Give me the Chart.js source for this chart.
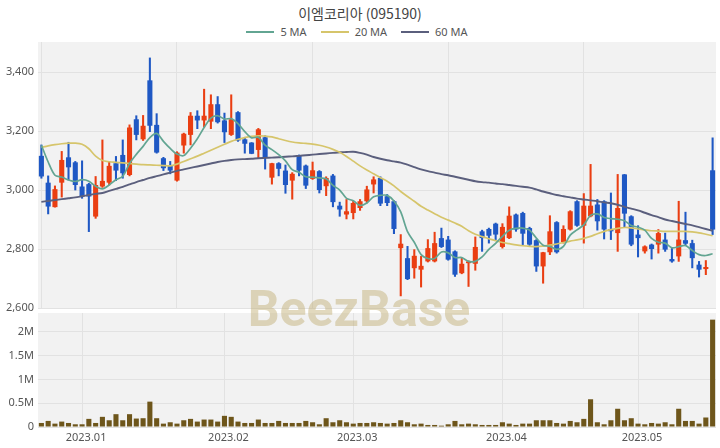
<!DOCTYPE html>
<html>
<head>
<meta charset="utf-8">
<script src="https://cdn.jsdelivr.net/npm/chart.js@4.4.0/dist/chart.umd.min.js"></script>
<style>
  body { margin: 0; width: 720px; height: 448px; background: #fff; position: relative; overflow: hidden; font-family: "Noto Sans", sans-serif; }
  #title { position: absolute; top: 3px; left: 0; width: 720px; text-align: center; font: 14px "Noto Sans CJK KR", "Noto Sans", sans-serif; color: #444; }
  #legend { position: absolute; top: 24px; left: 0; width: 714px; display: flex; justify-content: center; gap: 14px; font-size: 11px; color: #555; }
  #legend span.item { display: flex; align-items: center; gap: 6px; }
  #legend i { display: inline-block; width: 28px; height: 2px; }
  .box { position: absolute; left: 0; width: 720px; }
  #wm { position: absolute; top: 284px; left: 0; width: 718px; text-align: center; font: bold 50px Roboto, sans-serif; line-height: 50px; color: rgba(190, 170, 110, 0.45); z-index: 5; }
</style>
</head>
<body>
<div id="title">이엠코리아 (095190)</div>
<div id="legend">
  <span class="item"><i style="background:#62a592"></i>5 MA</span>
  <span class="item"><i style="background:#d6c56b"></i>20 MA</span>
  <span class="item"><i style="background:#5b5f7d"></i>60 MA</span>
</div>
<div class="box" style="top:311px;height:137px;z-index:1"><canvas id="vol"></canvas></div>
<div class="box" style="top:40px;height:276px;z-index:2"><canvas id="price"></canvas></div>
<div id="wm">BeezBase</div>
<script>
var open  = [3116,3025,2942,3025,3111,3094,3012,3020,2910,3012,3025,3091,3119,3051,3240,3172,3372,3221,3108,3082,
             3032,3151,3187,3252,3236,3232,3291,3236,3187,3264,3172,3161,3136,3179,3042,3091,3066,3032,3116,3083,
             3038,3064,3013,3049,2947,2917,2922,2939,2962,3019,3041,2979,2962,2803,2769,2735,2730,2758,2758,2837,
             2832,2792,2718,2752,2750,2860,2868,2886,2807,2837,2917,2922,2871,2830,2741,2789,2891,2823,2866,2962,
             2879,2911,2951,2962,2868,2854,3053,2911,2849,2792,2815,2815,2832,2766,2775,2830,2820,2747,2732,3067];
var high  = [3153,3048,3014,3131,3162,3097,3099,3023,3046,3170,3097,3114,3170,3221,3252,3253,3448,3259,3111,3097,
             3130,3193,3263,3269,3342,3323,3317,3261,3323,3266,3179,3161,3209,3184,3091,3093,3085,3059,3119,3085,
             3095,3066,3045,3053,2959,2968,2962,2968,3013,3045,3045,2985,2964,2849,2809,2798,2775,2832,2857,2871,
             2843,2794,2769,2760,2841,2864,2871,2888,2886,2943,2919,2925,2874,2832,2789,2913,2893,2879,2930,2964,
             2988,3087,2968,2964,2990,3053,3053,2913,2879,2811,2817,2866,2854,2803,2962,2925,2830,2758,2761,3177];
var low   = [3040,2919,2942,2976,3034,3000,2972,2859,2904,3009,3017,3032,3040,3048,3170,3168,3198,3125,3066,3055,
             3030,3125,3153,3208,3213,3208,3227,3161,3185,3165,3125,3123,3108,3071,3020,3048,2989,2969,3048,3005,
             3036,2990,2981,2943,2911,2902,2902,2931,2956,2990,2947,2947,2852,2641,2696,2701,2671,2756,2756,2805,
             2762,2707,2716,2673,2728,2792,2820,2832,2803,2835,2860,2815,2812,2724,2684,2781,2786,2820,2864,2877,
             2820,2909,2864,2834,2832,2792,2875,2811,2773,2786,2766,2786,2792,2755,2758,2811,2736,2705,2713,2849];
var close = [3046,2944,3003,3102,3077,3017,2978,2978,3017,3031,3082,3066,3057,3212,3187,3218,3218,3127,3074,3066,
             3127,3191,3252,3236,3252,3291,3230,3196,3240,3168,3157,3123,3206,3108,3091,3072,3017,3055,3066,3015,
             3067,3000,3041,2959,2934,2928,2956,2962,3002,3036,2954,2956,2868,2818,2698,2777,2743,2803,2820,2807,
             2764,2713,2750,2758,2807,2837,2845,2849,2875,2913,2866,2852,2815,2741,2789,2860,2789,2868,2928,2879,
             2947,2947,2894,2866,2860,2939,2920,2815,2837,2809,2800,2854,2798,2758,2832,2818,2769,2730,2739,2866];
var ma5   = [3152,3095,3050,3044,3034,3029,3035,3030,3013,3004,3017,3035,3047,3090,3121,3148,3178,3192,3165,3141,
             3122,3117,3142,3174,3212,3244,3252,3241,3242,3225,3198,3177,3179,3152,3137,3120,3099,3069,3060,3045,
             3044,3041,3038,3016,3000,2972,2964,2948,2956,2977,2982,2982,2963,2926,2859,2823,2781,2768,2768,2790,
             2787,2771,2771,2758,2758,2773,2799,2819,2843,2864,2870,2871,2864,2837,2813,2809,2799,2809,2847,2865,
             2882,2914,2919,2907,2903,2901,2896,2880,2874,2864,2836,2823,2820,2804,2808,2812,2795,2781,2778,2784];
var ma20  = [3145,3150,3154,3157,3159,3159,3155,3140,3115,3100,3096,3094,3092,3090,3088,3086,3085,3084,3083,3082,
             3088,3097,3106,3115,3125,3135,3145,3155,3165,3172,3178,3182,3184,3183,3180,3174,3168,3163,3160,3158,
             3156,3152,3146,3138,3128,3114,3098,3082,3068,3055,3042,3030,3014,2995,2978,2962,2945,2932,2920,2908,
             2898,2888,2877,2862,2850,2842,2835,2828,2822,2818,2814,2811,2809,2808,2810,2813,2817,2822,2827,2831,
             2836,2843,2852,2860,2866,2870,2873,2872,2868,2865,2862,2861,2860,2860,2860,2860,2858,2855,2850,2845];
var ma60  = [2960,2963,2966,2969,2972,2975,2979,2983,2987,2990,2997,3004,3011,3019,3027,3034,3041,3047,3053,3059,
             3065,3070,3075,3080,3085,3090,3095,3099,3102,3104,3105,3106,3108,3109,3110,3111,3113,3114,3116,3118,
             3120,3122,3124,3126,3128,3129,3130,3126,3120,3112,3106,3101,3097,3093,3086,3078,3070,3064,3059,3054,
             3050,3045,3040,3035,3030,3027,3025,3022,3020,3017,3014,3011,3008,3002,2995,2989,2983,2979,2975,2971,
             2968,2965,2962,2958,2955,2950,2943,2937,2931,2923,2915,2908,2900,2895,2890,2885,2880,2874,2868,2862];
var volume = [85000,128000,71000,114000,85000,57000,57000,171000,85000,214000,142000,270000,142000,270000,178000,185000,534000,185000,71000,100000,
              71000,142000,171000,114000,157000,157000,114000,235000,214000,114000,85000,85000,157000,85000,85000,128000,85000,85000,85000,128000,
              100000,57000,185000,100000,142000,100000,71000,85000,85000,100000,85000,71000,85000,142000,100000,57000,71000,43000,43000,28000,
              57000,128000,57000,71000,57000,43000,43000,43000,100000,71000,43000,71000,71000,142000,142000,142000,85000,71000,128000,100000,
              171000,584000,100000,57000,142000,384000,142000,185000,71000,57000,85000,71000,100000,57000,384000,128000,128000,71000,200000,2260000];
var priceTicks = [2600, 2800, 3000, 3200, 3400];
var volTicks = [0, 500000, 1000000, 1500000, 2000000];
var monthIdx = [6, 27, 46, 68, 88];
var monthText = ["2023.01", "2023.02", "2023.03", "2023.04", "2023.05"];

var UP = "#ea3e12", DOWN = "#1f58c4", GRID = "#e2e2e2";
var labels = close.map(function (v, i) { return i; });
var colors = close.map(function (c, i) { return c >= open[i] ? UP : DOWN; });
var bodies = close.map(function (c, i) { return [open[i], c]; });
var wicks = close.map(function (c, i) { return [low[i], high[i]]; });

var plotBg = {
  id: "plotBg",
  beforeDraw: function (chart) {
    var a = chart.chartArea, ctx = chart.ctx;
    ctx.save();
    ctx.fillStyle = "#f2f2f2";
    ctx.fillRect(a.left, a.top, a.right - a.left, a.bottom - a.top);
    ctx.restore();
  }
};

// fixed axis width, and no extra room for half tick labels
function fitY(s) { s.width = 38; s.paddingTop = 0; s.paddingBottom = 0; }

var tickFont = { size: 11, family: "Noto Sans" };

new Chart("price", {
  type: "bar",
  data: {
    labels: labels,
    datasets: [
      { type: "line", data: ma5, borderColor: "#62a592", borderWidth: 1.7, pointRadius: 0, tension: 0.3, order: 0 },
      { type: "line", data: ma20, borderColor: "#d6c56b", borderWidth: 1.7, pointRadius: 0, tension: 0.3, order: 0 },
      { type: "line", data: ma60, borderColor: "#5b5f7d", borderWidth: 1.9, pointRadius: 0, tension: 0.3, order: 0 },
      { data: bodies, backgroundColor: colors, barPercentage: 0.75, categoryPercentage: 1, grouped: false, minBarLength: 1.5, order: 1 },
      { data: wicks, backgroundColor: colors, barThickness: 1.4, grouped: false, order: 2 }
    ]
  },
  options: {
    responsive: true,
    maintainAspectRatio: false,
    animation: false,
    layout: { padding: { top: 2, bottom: 8, left: 0, right: 4 } },
    plugins: { legend: { display: false }, tooltip: { enabled: false } },
    scales: {
      x: {
        offset: true,
        grid: { offset: false, drawTicks: false, color: function (c) { return c.index % 20 === 0 ? GRID : "rgba(0,0,0,0)"; } },
        border: { display: false },
        ticks: { display: false, autoSkip: false },
        afterFit: function (s) { s.height = 0; s.paddingLeft = 0; s.paddingRight = 0; }
      },
      y: {
        min: 2600,
        max: 3502,
        afterBuildTicks: function (s) { s.ticks = priceTicks.map(function (v) { return { value: v }; }); },
        ticks: { color: "#555", font: tickFont, padding: 4, callback: function (v) { return v.toLocaleString("en-US"); } },
        grid: { color: GRID, drawTicks: false },
        border: { display: false },
        afterFit: fitY
      }
    }
  },
  plugins: [plotBg]
});

new Chart("vol", {
  type: "bar",
  data: {
    labels: labels,
    datasets: [{ data: volume, backgroundColor: "#6e561b", barPercentage: 0.75, categoryPercentage: 1 }]
  },
  options: {
    responsive: true,
    maintainAspectRatio: false,
    animation: false,
    layout: { padding: { top: 2, bottom: 3, left: 0, right: 4 } },
    plugins: { legend: { display: false }, tooltip: { enabled: false } },
    scales: {
      x: {
        grid: { offset: false, drawTicks: false, color: function (c) { return monthIdx.indexOf(c.index) >= 0 ? GRID : "rgba(0,0,0,0)"; } },
        border: { display: false },
        ticks: {
          autoSkip: false, maxRotation: 0, minRotation: 0, padding: 4, labelOffset: 4, color: "#555", font: tickFont,
          callback: function (v, i) { var k = monthIdx.indexOf(i); return k < 0 ? "" : monthText[k]; }
        },
        afterFit: function (s) { s.height = 18; s.paddingLeft = 0; s.paddingRight = 0; }
      },
      y: {
        min: 0,
        max: 2400000,
        afterBuildTicks: function (s) { s.ticks = volTicks.map(function (v) { return { value: v }; }); },
        ticks: { color: "#555", font: tickFont, padding: 4, callback: function (v) { return v === 0 ? "0" : (v / 1000000) + "M"; } },
        grid: { color: GRID, drawTicks: false },
        border: { display: false },
        afterFit: fitY
      }
    }
  },
  plugins: [plotBg]
});
</script>
</body>
</html>
